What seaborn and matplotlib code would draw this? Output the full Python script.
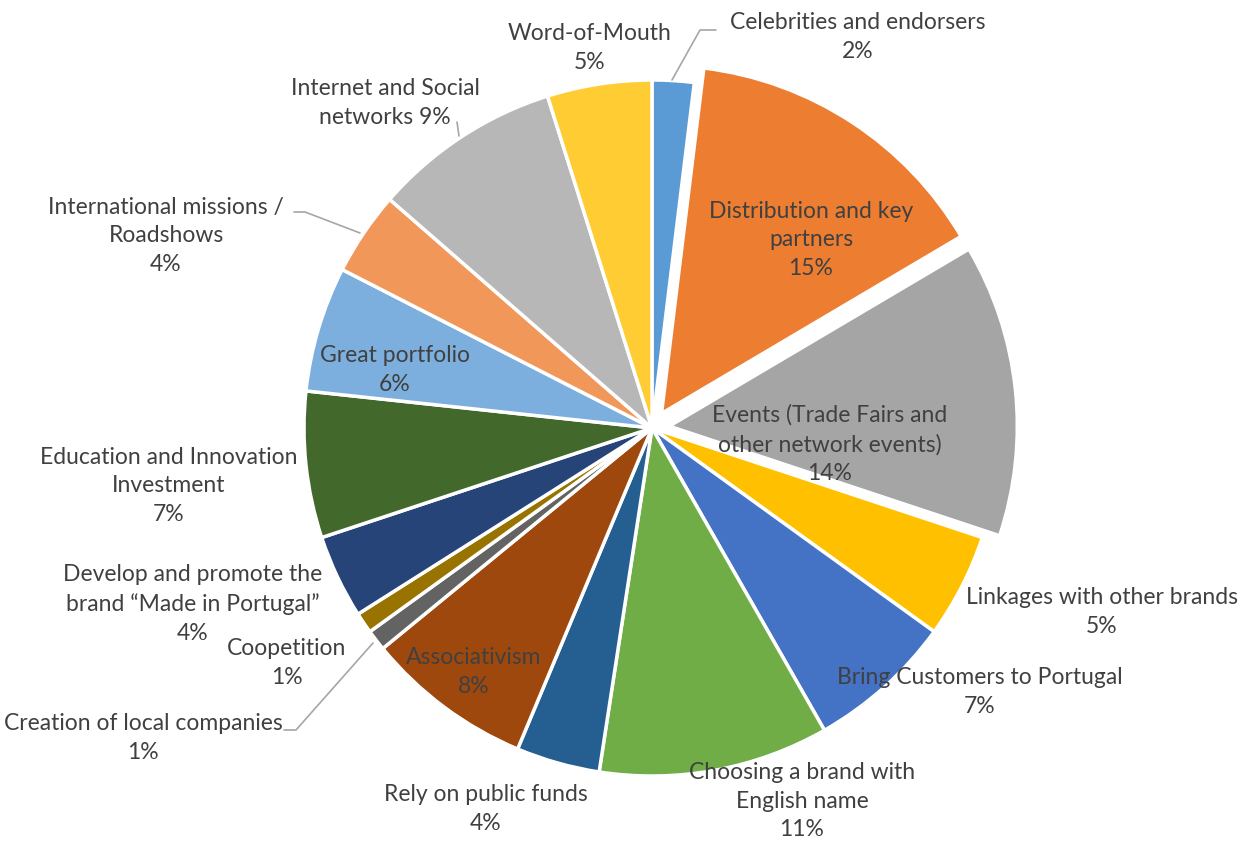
import matplotlib
matplotlib.use("Agg")
import matplotlib.pyplot as plt
import seaborn as sns

categories = [
    "Celebrities and endorsers",
    "Distribution and key partners",
    "Events (Trade Fairs and other network events)",
    "Linkages with other brands",
    "Bring Customers to Portugal",
    "Choosing a brand with English name",
    "Rely on public funds",
    "Associativism",
    "Creation of local companies",
    "Coopetition",
    "Develop and promote the brand \u201cMade in Portugal\u201d",
    "Education and Innovation Investment",
    "Great portfolio",
    "International missions / Roadshows",
    "Internet and Social networks",
    "Word-of-Mouth",
]
values = [2, 15, 14, 5, 7, 11, 4, 8, 1, 1, 4, 7, 6, 4, 9, 5]
explode_flags = [0, 1, 1, 0, 0, 0, 0, 0, 0, 0, 0, 0, 0, 0, 0, 0]
colors = ["#5B9BD5", "#ED7D31", "#A5A5A5", "#FFC000", "#4472C4", "#70AD47",
          "#255E91", "#9E480E", "#636363", "#997300", "#264478", "#43682B",
          "#7CAFDD", "#F1975A", "#B7B7B7", "#FFCD33"]

# label text (as displayed) and label centre positions in pixels
label_texts = [
    "Celebrities and endorsers\n2%",
    "Distribution and key\npartners\n15%",
    "Events (Trade Fairs and\nother network events)\n14%",
    "Linkages with other brands\n5%",
    "Bring Customers to Portugal\n7%",
    "Choosing a brand with\nEnglish name\n11%",
    "Rely on public funds\n4%",
    "Associativism\n8%",
    "Creation of local companies\n1%",
    "Coopetition\n1%",
    "Develop and promote the\nbrand \u201cMade in Portugal\u201d\n4%",
    "Education and Innovation\nInvestment\n7%",
    "Great portfolio\n6%",
    "International missions /\nRoadshows\n4%",
    "Internet and Social\nnetworks 9%",
    "Word-of-Mouth\n5%",
]
label_px = [(858, 37), (811, 240), (830, 444), (1102, 612), (980, 692),
            (802, 801), (486, 809), (474, 672), (143, 738), (287, 663),
            (193, 604), (169, 486), (395, 370), (166, 236), (385, 103),
            (590, 48)]

sns.set_theme(style="white")
plt.rcParams["font.family"] = ["Lato", "DejaVu Sans"]

W, H = 1242, 842
CX, CY, R = 652, 428, 348

fig = plt.figure(figsize=(W / 100, H / 100), dpi=100)
ax = fig.add_axes([0, 0, 1, 1])


def px(x, y):
    return ((x - CX) / R, (CY - y) / R)


ax.pie(values, colors=colors, startangle=90, counterclock=False,
       explode=[0.05 * e for e in explode_flags], radius=1.0,
       wedgeprops=dict(edgecolor="white", linewidth=2.5))

ax.set_xlim(-CX / R, (W - CX) / R)
ax.set_ylim(-(H - CY) / R, CY / R)
ax.set_aspect("equal")
ax.axis("off")

txt_color = "#404040"
for t, (x, y) in zip(label_texts, label_px):
    ax.text(*px(x, y), t, ha="center", va="center", fontsize=16.5,
            color=txt_color, linespacing=1.45)

# leader lines
line_col = "#A6A6A6"
leaders = [
    [(672, 80), (700, 30), (716, 30)],
    [(373, 643), (296, 730), (284, 730)],
    [(360, 233), (305, 212), (294, 212)],
    [(457, 122), (459, 136)],
]
for pts in leaders:
    xs, ys = zip(*[px(a, b) for a, b in pts])
    ax.plot(xs, ys, color=line_col, linewidth=1.2)

fig.savefig("out.png", dpi=100)
